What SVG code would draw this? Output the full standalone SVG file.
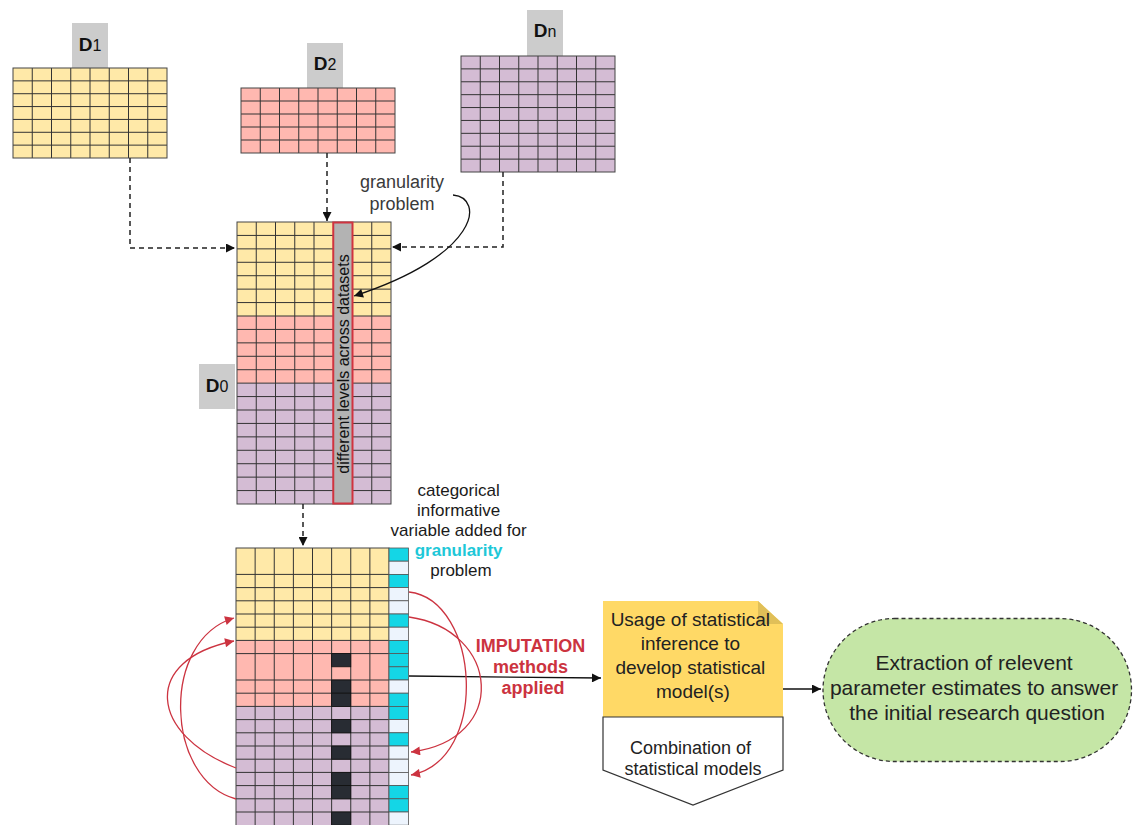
<svg xmlns="http://www.w3.org/2000/svg" width="1133" height="825" viewBox="0 0 1133 825">
  <style>
    .lbl { fill: #cccccc; }
    .lt { font-family: "Liberation Sans", Arial, sans-serif; font-weight: bold; font-size: 19px; fill: #111; text-anchor: middle; }
    .sub { font-weight: normal; font-size: 16px; }
    .gl { stroke: #333; stroke-width: 1; fill: none; }
    .frame { fill: none; stroke: #444; stroke-width: 1; }
    .yel { fill: #ffe9a8; }
    .pnk { fill: #ffb8b0; }
    .pur { fill: #d4bcd4; }
    .cy { fill: #14d6e6; stroke: #555; stroke-width: 0.8; }
    .lg { fill: #edf4fd; stroke: #555; stroke-width: 0.8; }
    .dk { fill: #282c33; stroke: #111; stroke-width: 0.8; }
    .dash { fill: none; stroke: #222; stroke-width: 1.5; stroke-dasharray: 5 4; }
    .solid { fill: none; stroke: #111; stroke-width: 1.3; }
    .red { fill: none; stroke: #cc3340; stroke-width: 1.3; }
    .t { font-family: "Liberation Sans", Arial, sans-serif; text-anchor: middle; }
  </style>
  <defs>
    <marker id="ah" viewBox="0 0 10 10" refX="10" refY="5" markerWidth="11" markerHeight="9" markerUnits="userSpaceOnUse" orient="auto">
      <path d="M0,0 L10,5 L0,10 z" fill="#111"/>
    </marker>
    <marker id="ahr" viewBox="0 0 10 10" refX="10" refY="5" markerWidth="13" markerHeight="9" markerUnits="userSpaceOnUse" orient="auto">
      <path d="M0,0 L10,5 L0,10 z" fill="#cc3340"/>
    </marker>
  </defs>

  <rect width="1133" height="825" fill="#ffffff"/>

  <!-- dataset D1 -->
  <g id="d1">
    <rect class="lbl" x="72" y="23" width="36" height="45"/>
    <text class="lt" x="90" y="51">D<tspan class="sub">1</tspan></text>
    <rect class="yel" x="13" y="68" width="154" height="90"/>
    <path class="gl" d="M32.25 68V158M51.5 68V158M70.75 68V158M90 68V158M109.25 68V158M128.5 68V158M147.75 68V158
      M13 80.86H167M13 93.71H167M13 106.57H167M13 119.43H167M13 132.29H167M13 145.14H167"/>
    <rect class="frame" x="13" y="68" width="154" height="90"/>
  </g>

  <!-- dataset D2 -->
  <g id="d2">
    <rect class="lbl" x="307" y="43" width="36" height="45"/>
    <text class="lt" x="325" y="70">D<tspan class="sub">2</tspan></text>
    <rect class="pnk" x="241" y="88" width="154" height="65"/>
    <path class="gl" d="M260.25 88V153M279.5 88V153M298.75 88V153M318 88V153M337.25 88V153M356.5 88V153M375.75 88V153
      M241 101H395M241 114H395M241 127H395M241 140H395"/>
    <rect class="frame" x="241" y="88" width="154" height="65"/>
  </g>

  <!-- dataset Dn -->
  <g id="dn">
    <rect class="lbl" x="527" y="10" width="36" height="46"/>
    <text class="lt" x="545" y="37">D<tspan class="sub">n</tspan></text>
    <rect class="pur" x="461" y="56" width="154" height="116"/>
    <path class="gl" d="M480.25 56V172M499.5 56V172M518.75 56V172M538 56V172M557.25 56V172M576.5 56V172M595.75 56V172
      M461 68.89H615M461 81.78H615M461 94.67H615M461 107.56H615M461 120.44H615M461 133.33H615M461 146.22H615M461 159.11H615"/>
    <rect class="frame" x="461" y="56" width="154" height="116"/>
  </g>

  <!-- merged dataset D0 -->
  <g id="d0">
    <rect class="lbl" x="199" y="364" width="36" height="45"/>
    <text class="lt" x="217" y="392">D<tspan class="sub">0</tspan></text>
    <rect class="yel" x="237" y="222" width="154" height="94"/>
    <rect class="pnk" x="237" y="316" width="154" height="67.14"/>
    <rect class="pur" x="237" y="383.14" width="154" height="120.86"/>
    <path class="gl" d="M256.25 222V504M275.5 222V504M294.75 222V504M314 222V504M371.75 222V504
      M237 235.43H391M237 248.86H391M237 262.29H391M237 275.71H391M237 289.14H391M237 302.57H391M237 316H391
      M237 329.43H391M237 342.86H391M237 356.29H391M237 369.71H391M237 383.14H391M237 396.57H391M237 410H391
      M237 423.43H391M237 436.86H391M237 450.29H391M237 463.71H391M237 477.14H391M237 490.57H391"/>
    <rect class="frame" x="237" y="222" width="154" height="282"/>
    <g id="level-column">
      <rect x="333.25" y="222.5" width="19.25" height="281" fill="#b3b3b3" stroke="#d0333f" stroke-width="2"/>
      <text class="t" x="0" y="0" dy="0.35em" font-size="16" fill="#111" transform="translate(343 364) rotate(-90)">different levels across datasets</text>
    </g>
  </g>

  <!-- imputed dataset with categorical variable -->
  <g id="imputed">
    <rect class="yel" x="236" y="548" width="153" height="92.4"/>
    <rect class="pnk" x="236" y="640.4" width="153" height="66"/>
    <rect class="pur" x="236" y="706.4" width="153" height="120"/>
    <path class="gl" d="M255.125 548V826M274.25 548V826M293.375 548V826M312.5 548V826M331.625 548V826M350.75 548V826M369.875 548V826
      M236 574.4H389M236 587.6H389M236 600.8H389M236 614H389M236 627.2H389M236 640.4H389M236 653.6H389
      M236 680H389M236 693.2H389M236 706.4H389M236 719.6H389M236 732.8H389M236 746H389M236 759.2H389
      M236 772.4H389M236 785.6H389M236 798.8H389M236 812H389"/>
    <rect class="frame" x="236" y="548" width="153" height="280"/>
    <g id="missing-cells">
      <rect class="dk" x="331.625" y="653.6" width="19.125" height="13.2"/>
      <rect class="dk" x="331.625" y="680" width="19.125" height="13.2"/>
      <rect class="dk" x="331.625" y="693.2" width="19.125" height="13.2"/>
      <rect class="dk" x="331.625" y="719.6" width="19.125" height="13.2"/>
      <rect class="dk" x="331.625" y="746" width="19.125" height="13.2"/>
      <rect class="dk" x="331.625" y="772.4" width="19.125" height="13.2"/>
      <rect class="dk" x="331.625" y="785.6" width="19.125" height="13.2"/>
      <rect class="dk" x="331.625" y="812" width="19.125" height="13.2"/>
    </g>
    <g id="category-column">
      <rect class="cy" x="389" y="548" width="19.5" height="13.2"/>
      <rect class="lg" x="389" y="561.2" width="19.5" height="13.2"/>
      <rect class="cy" x="389" y="574.4" width="19.5" height="13.2"/>
      <rect class="lg" x="389" y="587.6" width="19.5" height="13.2"/>
      <rect class="lg" x="389" y="600.8" width="19.5" height="13.2"/>
      <rect class="cy" x="389" y="614" width="19.5" height="13.2"/>
      <rect class="lg" x="389" y="627.2" width="19.5" height="13.2"/>
      <rect class="cy" x="389" y="640.4" width="19.5" height="13.2"/>
      <rect class="cy" x="389" y="653.6" width="19.5" height="13.2"/>
      <rect class="cy" x="389" y="666.8" width="19.5" height="13.2"/>
      <rect class="lg" x="389" y="680" width="19.5" height="13.2"/>
      <rect class="cy" x="389" y="693.2" width="19.5" height="13.2"/>
      <rect class="cy" x="389" y="706.4" width="19.5" height="13.2"/>
      <rect class="lg" x="389" y="719.6" width="19.5" height="13.2"/>
      <rect class="cy" x="389" y="732.8" width="19.5" height="13.2"/>
      <rect class="lg" x="389" y="746" width="19.5" height="13.2"/>
      <rect class="lg" x="389" y="759.2" width="19.5" height="13.2"/>
      <rect class="lg" x="389" y="772.4" width="19.5" height="13.2"/>
      <rect class="cy" x="389" y="785.6" width="19.5" height="13.2"/>
      <rect class="cy" x="389" y="798.8" width="19.5" height="13.2"/>
      <rect class="lg" x="389" y="812" width="19.5" height="13.2"/>
    </g>
  </g>

  <!-- annotations -->
  <g id="granularity-note">
    <text class="t" font-size="18" fill="#3a3a3a"><tspan x="402" y="188">granularity</tspan><tspan x="402" y="210">problem</tspan></text>
  </g>
  <g id="category-note">
    <text class="t" font-size="17" fill="#1a1a1a">
      <tspan x="461" y="496">categorical</tspan>
      <tspan x="461" y="516">informative</tspan>
      <tspan x="461" y="536">variable added for</tspan>
      <tspan x="461" y="556" font-weight="bold" fill="#1ec8d8">granularity</tspan>
      <tspan x="461" y="576">problem</tspan>
    </text>
  </g>
  <g id="imputation-label">
    <text class="t" font-size="18" font-weight="bold" fill="#cc3340">
      <tspan x="533" y="652">IMPUTATION</tspan>
      <tspan x="533" y="673">methods</tspan>
      <tspan x="533" y="694">applied</tspan>
    </text>
  </g>

  <!-- statistical inference note -->
  <g id="inference">
    <path d="M603 601H758L783 624V717H603Z" fill="#ffd966"/>
    <path d="M758 601V624H783Z" fill="#e0bf58"/>
    <text class="t" font-size="19" fill="#222">
      <tspan x="693" y="626">Usage of statistical</tspan>
      <tspan x="693" y="650">inference to</tspan>
      <tspan x="693" y="674">develop statistical</tspan>
      <tspan x="693" y="698">model(s)</tspan>
    </text>
  </g>
  <g id="combination">
    <path d="M603 717H783V770L693 805L603 770Z" fill="#ffffff" stroke="#333" stroke-width="1.2"/>
    <text class="t" font-size="18" fill="#222">
      <tspan x="693" y="754">Combination of</tspan>
      <tspan x="693" y="775">statistical models</tspan>
    </text>
  </g>

  <!-- final outcome -->
  <g id="extraction">
    <rect x="823" y="618.5" width="308.5" height="143" rx="71.5" ry="71.5" fill="#c5e6a6" stroke="#333" stroke-width="1.3" stroke-dasharray="4 3"/>
    <text class="t" font-size="21" fill="#222">
      <tspan x="977" y="670">Extraction of relevent</tspan>
      <tspan x="977" y="695">parameter estimates to answer</tspan>
      <tspan x="977" y="720">the initial research question</tspan>
    </text>
  </g>

  <!-- connectors -->
  <g id="connectors">
    <path class="dash" d="M130 158V248H235" marker-end="url(#ah)"/>
    <path class="dash" d="M327 153V221" marker-end="url(#ah)"/>
    <path class="dash" d="M503 172V247H392" marker-end="url(#ah)"/>
    <path class="dash" d="M303 504V546" marker-end="url(#ah)"/>
    <path class="solid" d="M453 195C485 198 480 255 354 296" marker-end="url(#ah)"/>
    <path class="solid" d="M409 676L601 678" marker-end="url(#ah)"/>
    <path class="solid" d="M783 689H821" marker-end="url(#ah)"/>
    <path class="red" d="M236 768C150 735 140 660 234 641" marker-end="url(#ahr)"/>
    <path class="red" d="M236 799C165 780 160 640 234 618" marker-end="url(#ahr)"/>
    <path class="red" d="M409 592C480 600 490 760 411 775" marker-end="url(#ahr)"/>
    <path class="red" d="M409 617C500 630 510 740 411 752" marker-end="url(#ahr)"/>
  </g>
</svg>
